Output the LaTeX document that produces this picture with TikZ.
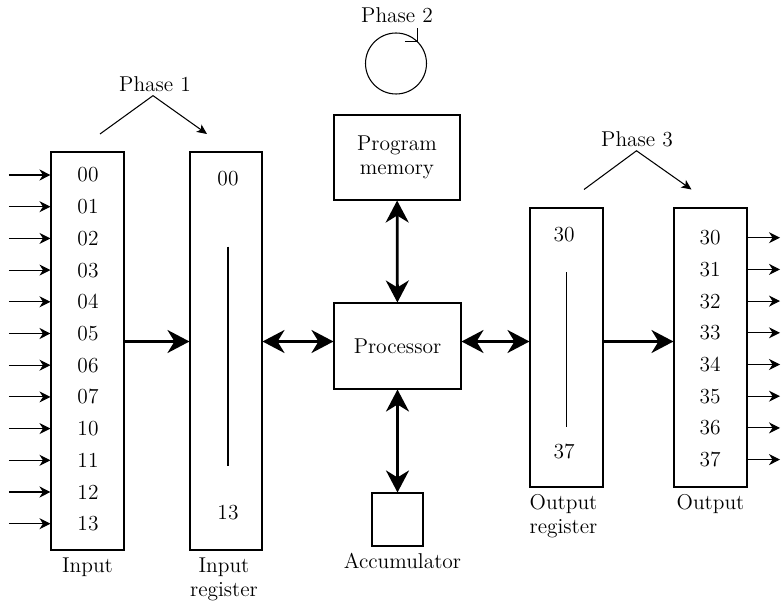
\documentclass[tikz,border=0pt]{standalone}
\usepackage{tikz}
\usetikzlibrary{positioning,arrows.meta,calc}
\tikzset{
  reg/.style={draw,line width=0.6pt,inner sep=0pt,align=center,
              font=\fontsize{12.2}{13.6}\selectfont},
  lbl/.style={font=\fontsize{12.2}{13.6}\selectfont,align=center,inner sep=1pt},
  bus/.style={{Stealth[length=4.4mm,width=4.6mm,inset=1.4mm]}-{Stealth[length=4.4mm,width=4.6mm,inset=1.4mm]},
              line width=1.6pt},
  feed/.style={-{Stealth[length=4.4mm,width=4.6mm,inset=1.4mm]},line width=1.6pt},
  pin/.style={-{Stealth[length=2.2mm,width=2.2mm,inset=0.7mm]},line width=0.6pt},
  phase/.style={-{Stealth[length=2mm,width=1.8mm,inset=0.5mm]},line width=0.6pt},
}

\begin{document}
\begin{tikzpicture}[x=1cm,y=1cm]
    \useasboundingbox (0,0) rectangle (15.62,12.06);
    \coordinate (bus) at (0,5.23);
    % Input side
    \node[reg,minimum width=1.46cm,minimum height=7.96cm] (inp) at (1.75,5.04) {};
    \node[reg,minimum width=1.44cm,minimum height=7.96cm] (inreg) at (4.52,5.04) {};
    \foreach \lab [count=\k from 0] in {00,01,02,03,04,05,06,07,10,11,12,13}{
      \node[lbl] (i\k) at (1.76,8.56-\k*0.634) {\lab};
      \coordinate (is\k) at (0.18,8.56-\k*0.634);
      \draw[pin] (is\k) -- (inp.west |- i\k);
    }
    \node[lbl] (ir0) at (4.56,8.48) {00};
    \node[lbl] (ir1) at (4.56,1.81) {13};
    \draw[line width=0.6pt] ($(ir0)+(0,-1.35)$) -- ($(ir1)+(0,0.94)$);
    \node[lbl,below=0.1cm of inp] (inlab) {Input};
    \node[lbl,below=0.1cm of inreg,xshift=-0.04cm] (inreglab) {Input\\register};
    % Phase 1
    \node[lbl] (ph1) at (3.1,10.38) {Phase 1};
    \coordinate (p1s) at (2.0,9.38);
    \coordinate (p1e) at (4.14,9.38);
    \draw[phase] (p1s) -- ($(ph1.south)+(-0.04,-0.04)$) -- (p1e);
    % Centre column
    \node[lbl] (ph2) at (7.94,11.76) {Phase 2};
    \node[draw,circle,line width=0.6pt,minimum size=1.22cm,inner sep=0pt] (loop) at (7.92,10.79) {};
    \draw[line width=0.6pt] ($(loop.45)+(-0.26,0)$) -- (loop.45) -- ++(0,0.27);
    \node[reg,minimum width=2.52cm,minimum height=1.7cm] (prog) at (7.94,8.91) {Program\\memory};
    \node[reg,minimum width=2.54cm,minimum height=1.72cm] (proc) at (7.95,5.14) {Processor};
    \node[reg,minimum width=1.02cm,minimum height=1.06cm] (acc) at (7.95,1.67) {};
    \node[lbl,below=0.1cm of acc,xshift=0.1cm] (acclab) {Accumulator};
    \draw[bus] (prog) -- (proc);
    \draw[bus] (proc) -- (acc);
    % Output side
    \node[reg,minimum width=1.46cm,minimum height=5.58cm] (outreg) at (11.33,5.11) {};
    \node[reg,minimum width=1.46cm,minimum height=5.58cm] (outp) at (14.21,5.11) {};
    \node[lbl] (or0) at (11.28,7.36) {30};
    \node[lbl] (or1) at (11.28,3.03) {37};
    \draw[line width=0.6pt] ($(or0)+(0.05,-0.75)$) -- ($(or1)+(0.05,0.5)$);
    \foreach \lab [count=\k from 0] in {30,31,32,33,34,35,36,37}{
      \node[lbl] (o\k) at (14.2,7.306-\k*0.634) {\lab};
      \coordinate (oe\k) at (15.6,7.306-\k*0.634);
      \draw[pin] (outp.east |- o\k) -- (oe\k);
    }
    \node[lbl,below=0.1cm of outreg,xshift=-0.06cm] (outreglab) {Output\\register};
    \node[lbl,below=0.1cm of outp] (outlab) {Output};
    % Phase 3
    \node[lbl] (ph3) at (12.74,9.28) {Phase 3};
    \coordinate (p3s) at (11.68,8.27);
    \coordinate (p3e) at (13.83,8.27);
    \draw[phase] (p3s) -- ($(ph3.south)+(-0.01,-0.04)$) -- (p3e);
    % Data paths
    \draw[feed] (inp.east |- bus) -- (inreg.west |- bus);
    \draw[bus] (inreg.east |- bus) -- (proc.west |- bus);
    \draw[bus] (proc.east |- bus) -- (outreg.west |- bus);
    \draw[feed] (outreg.east |- bus) -- (outp.west |- bus);
  \end{tikzpicture}
\end{document}
